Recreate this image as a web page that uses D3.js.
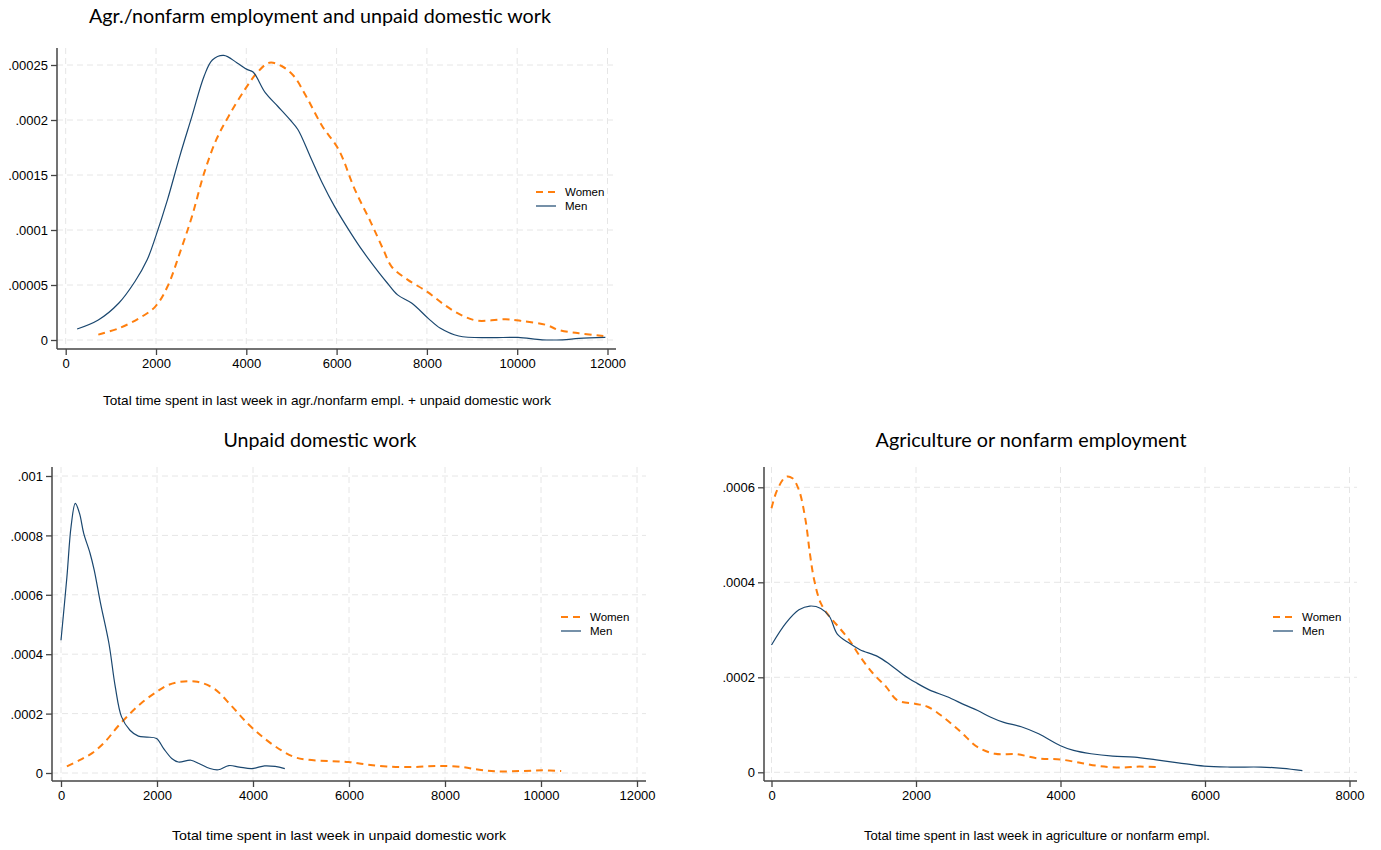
<!DOCTYPE html>
<html>
<head>
<meta charset="utf-8">
<script src="https://cdn.jsdelivr.net/npm/d3@7"></script>
<style>
  html, body { margin: 0; padding: 0; background: #fff; }
  svg { display: block; }
</style>
</head>
<body>
<svg id="chart" width="1381" height="850"></svg>
<script>
// ---------------- DATA ----------------
const seriesNames = ["Women", "Men"];

// Panel 1: Agr./nonfarm employment + unpaid domestic work
const p1Title = "Agr./nonfarm employment and unpaid domestic work";
const p1XLabel = "Total time spent in last week in agr./nonfarm empl. + unpaid domestic work";
const p1XTicks = [0, 2000, 4000, 6000, 8000, 10000, 12000];
const p1YTicks = [0, 0.00005, 0.0001, 0.00015, 0.0002, 0.00025];
const p1YTickLabels = ["0", ".00005", ".0001", ".00015", ".0002", ".00025"];
const p1Women = [[722,0.0000049],[1173,0.0000106],[1624,0.0000197],[1985,0.0000304],[2255,0.0000486],[2526,0.000079],[2797,0.0001124],[3067,0.0001519],[3338,0.0001823],[3609,0.0002035],[3970,0.0002278],[4240,0.000243],[4511,0.0002521],[4781,0.0002491],[5052,0.00024],[5322,0.0002218],[5683,0.0001944],[6044,0.0001732],[6405,0.0001367],[6766,0.0001063],[7037,0.000082],[7217,0.0000668],[7578,0.0000547],[8002,0.000044],[8390,0.0000319],[8751,0.0000228],[9112,0.0000176],[9743,0.0000188],[10104,0.0000173],[10645,0.0000137],[10916,0.0000091],[11367,0.0000061],[11908,0.0000036]];
const p1Men = [[253,0.00001],[722,0.0000182],[1173,0.0000334],[1534,0.0000532],[1804,0.0000729],[1994,0.0000942],[2255,0.0001276],[2526,0.000167],[2797,0.0002035],[3067,0.00024],[3248,0.0002546],[3500,0.0002588],[3789,0.0002521],[4015,0.000246],[4150,0.0002436],[4420,0.0002248],[4691,0.0002127],[4962,0.0002005],[5142,0.0001914],[5413,0.0001671],[5683,0.0001428],[5954,0.0001215],[6315,0.0000972],[6586,0.0000805],[6946,0.0000608],[7127,0.0000516],[7352,0.000041],[7668,0.0000334],[8029,0.0000197],[8300,0.0000106],[8706,0.0000036],[9382,0.0000021],[10014,0.0000024],[10555,0.0000002],[11006,0.0000002],[11367,0.0000015],[11953,0.0000024]];

// Panel 2: Unpaid domestic work
const p2Title = "Unpaid domestic work";
const p2XLabel = "Total time spent in last week in unpaid domestic work";
const p2XTicks = [0, 2000, 4000, 6000, 8000, 10000, 12000];
const p2YTicks = [0, 0.0002, 0.0004, 0.0006, 0.0008, 0.001];
const p2YTickLabels = ["0", ".0002", ".0004", ".0006", ".0008", ".001"];
const p2Women = [[123,0.000022],[386,0.000043],[649,0.000067],[912,0.000104],[1174,0.000155],[1437,0.0002],[1700,0.000239],[1990,0.000273],[2226,0.000296],[2489,0.000307],[2840,0.000307],[3190,0.000284],[3541,0.000228],[3892,0.000166],[4242,0.000116],[4593,0.000076],[4856,0.000054],[5119,0.000045],[5645,0.00004],[5995,0.000037],[6346,0.000029],[6784,0.000022],[7310,0.00002],[7836,0.000024],[8362,0.00002],[8712,0.000011],[9063,0.0000056],[9589,0.0000067],[10027,0.000009],[10421,0.0000067]];
const p2Men = [[0,0.000447],[123,0.00066],[210,0.00083],[298,0.000908],[386,0.000874],[473,0.000807],[605,0.00074],[692,0.000683],[824,0.000571],[999,0.000436],[1131,0.00029],[1262,0.000189],[1437,0.000144],[1613,0.000124],[1788,0.000121],[1990,0.000116],[2139,0.000082],[2314,0.000048],[2445,0.000037],[2708,0.000043],[2884,0.000031],[3103,0.000015],[3278,0.000011],[3497,0.000025],[3716,0.00002],[3979,0.000015],[4242,0.000024],[4461,0.000022],[4663,0.000015]];

// Panel 3: Agriculture or nonfarm employment
const p3Title = "Agriculture or nonfarm employment";
const p3XLabel = "Total time spent in last week in agriculture or nonfarm empl.";
const p3XTicks = [0, 2000, 4000, 6000, 8000];
const p3YTicks = [0, 0.0002, 0.0004, 0.0006];
const p3YTickLabels = ["0", ".0002", ".0004", ".0006"];
const p3Women = [[0,0.000556],[78,0.000594],[199,0.000622],[290,0.000619],[380,0.000594],[471,0.000531],[531,0.000461],[591,0.000405],[682,0.000356],[802,0.000328],[923,0.000307],[1074,0.000279],[1225,0.000244],[1406,0.000208],[1587,0.00018],[1738,0.000152],[1997,0.000144],[2160,0.000138],[2371,0.000117],[2612,0.000086],[2854,0.000053],[3095,0.000039],[3397,0.000038],[3698,0.000029],[4000,0.000027],[4302,0.000019],[4543,0.000013],[4845,0.00001],[5086,0.000012],[5327,0.000011]];
const p3Men = [[0,0.000268],[199,0.000314],[380,0.000342],[531,0.00035],[682,0.000345],[802,0.000328],[911,0.000291],[1074,0.000272],[1225,0.000258],[1466,0.000244],[1647,0.000226],[1828,0.000205],[1997,0.000189],[2190,0.000173],[2432,0.000159],[2673,0.000142],[2854,0.00013],[3035,0.000116],[3216,0.000105],[3457,0.000096],[3698,0.000081],[4000,0.000056],[4181,0.000046],[4422,0.000039],[4724,0.000034],[5025,0.000032],[5327,0.000026],[5629,0.00002],[5988,0.000013],[6352,0.000011],[6775,0.000011],[7077,0.0000084],[7348,0.0000035]];

// ---------------- STYLE / LAYOUT ----------------
const colorWomen = "#ff7f0e";
const colorMen = "#1a476f";
const gridColor = "#e6e6e6";
const axisColor = "#444";
const tickFont = "'Liberation Sans', Arial, sans-serif";
const titleFont = "Lato, 'Open Sans', sans-serif";

const panels = [
  { title: p1Title, xlabel: p1XLabel, xTicks: p1XTicks, yTicks: p1YTicks, yLabels: p1YTickLabels,
    women: p1Women, men: p1Men, xDomain: [0, 12000], yDomain: [0, 0.00025],
    xRange: [65.7, 607.5], yRange: [340, 65], axisX: 57, axisY: 349, top: 48, right: 616,
    titleX: 320, titleY: 23, titleW: 462, xlabX: 327, xlabY: 405, xlabW: 448,
    legX: 536, legY: 192 },
  { title: p2Title, xlabel: p2XLabel, xTicks: p2XTicks, yTicks: p2YTicks, yLabels: p2YTickLabels,
    women: p2Women, men: p2Men, xDomain: [0, 12000], yDomain: [0, 0.001],
    xRange: [61, 637], yRange: [773, 476], axisX: 52, axisY: 781, top: 467, right: 646,
    titleX: 320, titleY: 447, titleW: 193, xlabX: 339, xlabY: 840, xlabW: 334,
    legX: 561, legY: 617 },
  { title: p3Title, xlabel: p3XLabel, xTicks: p3XTicks, yTicks: p3YTicks, yLabels: p3YTickLabels,
    women: p3Women, men: p3Men, xDomain: [0, 8000], yDomain: [0, 0.0006],
    xRange: [771.5, 1349.5], yRange: [772.3, 487.3], axisX: 764, axisY: 781, top: 467, right: 1357,
    titleX: 1031, titleY: 447, titleW: 311, xlabX: 1037, xlabY: 840, xlabW: 346,
    legX: 1273, legY: 617 }
];

const svg = d3.select("#chart");

panels.forEach(p => {
  const x = d3.scaleLinear().domain(p.xDomain).range(p.xRange);
  const y = d3.scaleLinear().domain(p.yDomain).range(p.yRange);
  const g = svg.append("g");

  // grid
  g.append("g").selectAll("line.h").data(p.yTicks).join("line")
    .attr("x1", p.axisX).attr("x2", p.right)
    .attr("y1", d => y(d)).attr("y2", d => y(d))
    .attr("stroke", gridColor).attr("stroke-width", 1).attr("stroke-dasharray", "6,4");
  g.append("g").selectAll("line.v").data(p.xTicks).join("line")
    .attr("x1", d => x(d)).attr("x2", d => x(d))
    .attr("y1", p.top).attr("y2", p.axisY)
    .attr("stroke", gridColor).attr("stroke-width", 1).attr("stroke-dasharray", "6,4");

  // lines
  const line = d3.line().x(d => x(d[0])).y(d => y(d[1])).curve(d3.curveCatmullRom.alpha(0.5));
  g.append("path").datum(p.women).attr("d", line).attr("fill", "none")
    .attr("stroke", colorWomen).attr("stroke-width", 2).attr("stroke-dasharray", "7,5");
  g.append("path").datum(p.men).attr("d", line).attr("fill", "none")
    .attr("stroke", colorMen).attr("stroke-width", 1.2);

  // y axis
  const yAxis = d3.axisLeft(y).tickValues(p.yTicks)
    .tickFormat((d, i) => p.yLabels[i]).tickSize(6).tickPadding(3).tickSizeOuter(0);
  const ya = g.append("g").attr("transform", `translate(${p.axisX},0)`).call(yAxis);
  ya.select(".domain").remove();
  ya.append("line").attr("x1", 0).attr("x2", 0).attr("y1", p.top).attr("y2", p.axisY)
    .attr("stroke", axisColor).attr("stroke-width", 1.5);
  ya.selectAll(".tick line").attr("stroke", axisColor).attr("stroke-width", 1.3);
  ya.selectAll(".tick text").attr("font-family", tickFont).attr("font-size", 13)
    .attr("fill", "#000").attr("dy", "0.36em");

  // x axis
  const xAxis = d3.axisBottom(x).tickValues(p.xTicks).tickFormat(d3.format("d"))
    .tickSize(6).tickPadding(4).tickSizeOuter(0);
  const xa = g.append("g").attr("transform", `translate(0,${p.axisY})`).call(xAxis);
  xa.select(".domain").remove();
  xa.append("line").attr("x1", p.axisX).attr("x2", p.right).attr("y1", 0).attr("y2", 0)
    .attr("stroke", axisColor).attr("stroke-width", 1.5);
  xa.selectAll(".tick line").attr("stroke", axisColor).attr("stroke-width", 1.3);
  xa.selectAll(".tick text").attr("font-family", tickFont).attr("font-size", 13).attr("fill", "#000");

  // title
  svg.append("text").attr("x", p.titleX).attr("y", p.titleY).attr("text-anchor", "middle")
    .attr("font-family", titleFont).attr("font-size", 19).attr("fill", "#000")
    .attr("textLength", p.titleW).attr("lengthAdjust", "spacingAndGlyphs")
    .text(p.title);

  // x label
  svg.append("text").attr("x", p.xlabX).attr("y", p.xlabY).attr("text-anchor", "middle")
    .attr("font-family", tickFont).attr("font-size", 13).attr("fill", "#000")
    .attr("textLength", p.xlabW).attr("lengthAdjust", "spacingAndGlyphs")
    .text(p.xlabel);

  // legend
  const leg = svg.append("g").attr("transform", `translate(${p.legX},${p.legY})`);
  const items = [
    { name: seriesNames[0], color: colorWomen, w: 2, dash: "7,5" },
    { name: seriesNames[1], color: colorMen, w: 1.2, dash: null }
  ];
  items.forEach((it, i) => {
    leg.append("line").attr("x1", 0).attr("x2", 20).attr("y1", i * 14).attr("y2", i * 14)
      .attr("stroke", it.color).attr("stroke-width", it.w)
      .attr("stroke-dasharray", it.dash);
    leg.append("text").attr("x", 29).attr("y", i * 14 + 4).attr("font-family", tickFont)
      .attr("font-size", 11.5).attr("fill", "#000").text(it.name);
  });
});
</script>
</body>
</html>
